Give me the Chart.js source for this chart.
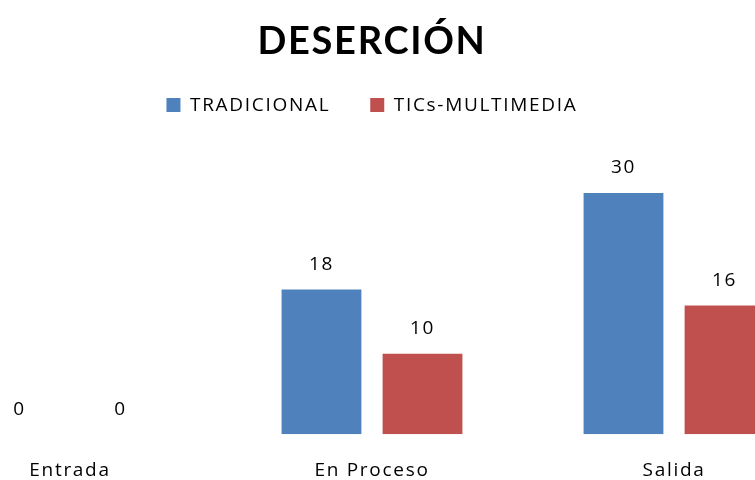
<!DOCTYPE html>
<html>
<head>
<meta charset="utf-8">
<script src="https://cdn.jsdelivr.net/npm/chart.js@4"></script>
<style>
    html, body { margin: 0; padding: 0; background: #fff; overflow: hidden; }
    #wrap { position: relative; width: 755px; height: 480px; overflow: hidden; }
    #desercionChart { position: absolute; left: -81px; top: 0; }
</style>
</head>
<body>
<div id="wrap">
    <canvas id="desercionChart" width="906" height="507"></canvas>
</div>
<script>
const categories = ["Entrada", "En Proceso", "Salida"];
const tradicional = [0, 18, 30];
const ticsMultimedia = [0, 10, 16];

const FONT = '"Open Sans", Lato, sans-serif';

// texto un poco espaciado, como en el original
const spacing = {
    id: "spacing",
    beforeUpdate(chart) { chart.ctx.letterSpacing = "1.7px"; },
    beforeDraw(chart) { chart.ctx.letterSpacing = "1.7px"; }
};

// valores encima de cada barra
const valueLabels = {
    id: "valueLabels",
    afterDatasetsDraw(chart) {
        const ctx = chart.ctx;
        ctx.save();
        ctx.font = "19px " + FONT;
        ctx.fillStyle = "#000";
        ctx.textAlign = "center";
        ctx.textBaseline = "middle";
        chart.data.datasets.forEach((ds, i) => {
            chart.getDatasetMeta(i).data.forEach((bar, j) => {
                ctx.fillText(ds.data[j], bar.x, bar.y - 25);
            });
        });
        ctx.restore();
    }
};

const ctx = document.getElementById("desercionChart");

new Chart(ctx, {
    type: "bar",
    data: {
        labels: categories,
        datasets: [{
            label: "TRADICIONAL",
            data: tradicional,
            backgroundColor: "#4F81BD",
            categoryPercentage: 0.669,
            barPercentage: 0.79
        }, {
            label: "TICs-MULTIMEDIA",
            data: ticsMultimedia,
            backgroundColor: "#C0504D",
            categoryPercentage: 0.669,
            barPercentage: 0.79
        }]
    },
    options: {
        responsive: false,
        animation: false,
        layout: { padding: 0 },
        plugins: {
            title: {
                display: true,
                text: "DESERCIÓN",
                color: "#000",
                font: { family: "Lato, sans-serif", size: 38, weight: "bold" },
                padding: { top: 19, bottom: -9 }
            },
            legend: {
                position: "top",
                labels: {
                    color: "#000",
                    font: { family: FONT, size: 19 },
                    boxWidth: 14,
                    boxHeight: 14,
                    padding: 40
                }
            },
            tooltip: { enabled: false }
        },
        scales: {
            x: {
                grid: { display: false, drawTicks: false },
                border: { display: false },
                ticks: {
                    color: "#000",
                    font: { family: FONT, size: 19 },
                    padding: 25
                }
            },
            y: {
                display: false,
                min: 0,
                max: 38.5
            }
        }
    },
    plugins: [spacing, valueLabels]
});
</script>
</body>
</html>
